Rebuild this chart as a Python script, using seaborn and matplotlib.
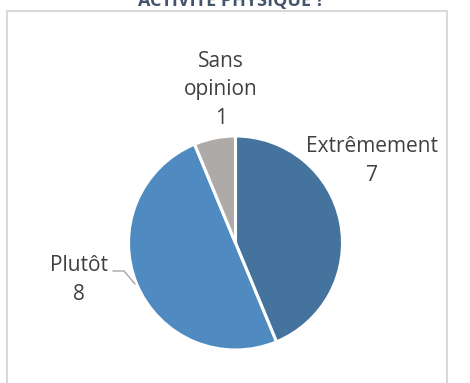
import matplotlib
matplotlib.use("Agg")
import matplotlib.pyplot as plt
import seaborn as sns
from matplotlib.patches import Rectangle

categories = ["Extrêmement", "Plutôt", "Sans opinion"]
values = [7, 8, 1]
label_texts = ["Extrêmement\n7", "Plutôt\n8", "Sans\nopinion\n1"]
title_text = "ACTIVITÉ PHYSIQUE ?"

sns.set_theme(style="white")
plt.rcParams['font.family'] = ['Open Sans', 'DejaVu Sans']

colors = ["#44739E", "#4F8BC1", "#AEAAA7"]

W, H = 470, 383
fig = plt.figure(figsize=(W / 100, H / 100), dpi=100)
ax = fig.add_axes([0, 0, 1, 1])
ax.set_xlim(0, W)
ax.set_ylim(0, H)
ax.set_aspect('equal')
ax.axis('off')

cx, cy, r = 235.5, H - 243, 107
ax.pie(values, colors=colors, startangle=90, counterclock=False,
       center=(cx, cy), radius=r, frame=False,
       wedgeprops=dict(edgecolor='white', linewidth=2.2))
ax.set_xlim(0, W)
ax.set_ylim(0, H)
ax.axis('off')

# chart frame
ax.add_patch(Rectangle((7, -20), 440, H - 10.5 + 20, fill=False,
                       edgecolor='#D9D9D9', linewidth=1.5))

# title (mostly cut off at top, as in the reference)
ax.text(231, H - 6, title_text, ha='center', va='baseline',
        fontsize=13, fontweight='bold', color='#44546A')

txt_color = '#404040'
fs = 15
pos = {"Extrêmement": (372, H - 161), "Plutôt": (79, H - 280),
       "Sans opinion": (221, H - 90)}
for cat, lab in zip(categories, label_texts):
    x, y = pos[cat]
    ax.text(x, y, lab, ha='center', va='center', fontsize=fs,
            color=txt_color, linespacing=1.45)

# leader line for Plutôt
ax.plot([113, 124, 135], [H - 271, H - 271, H - 284], color='#A6A6A6', lw=1)

fig.savefig("out.png", dpi=100, facecolor='white')
